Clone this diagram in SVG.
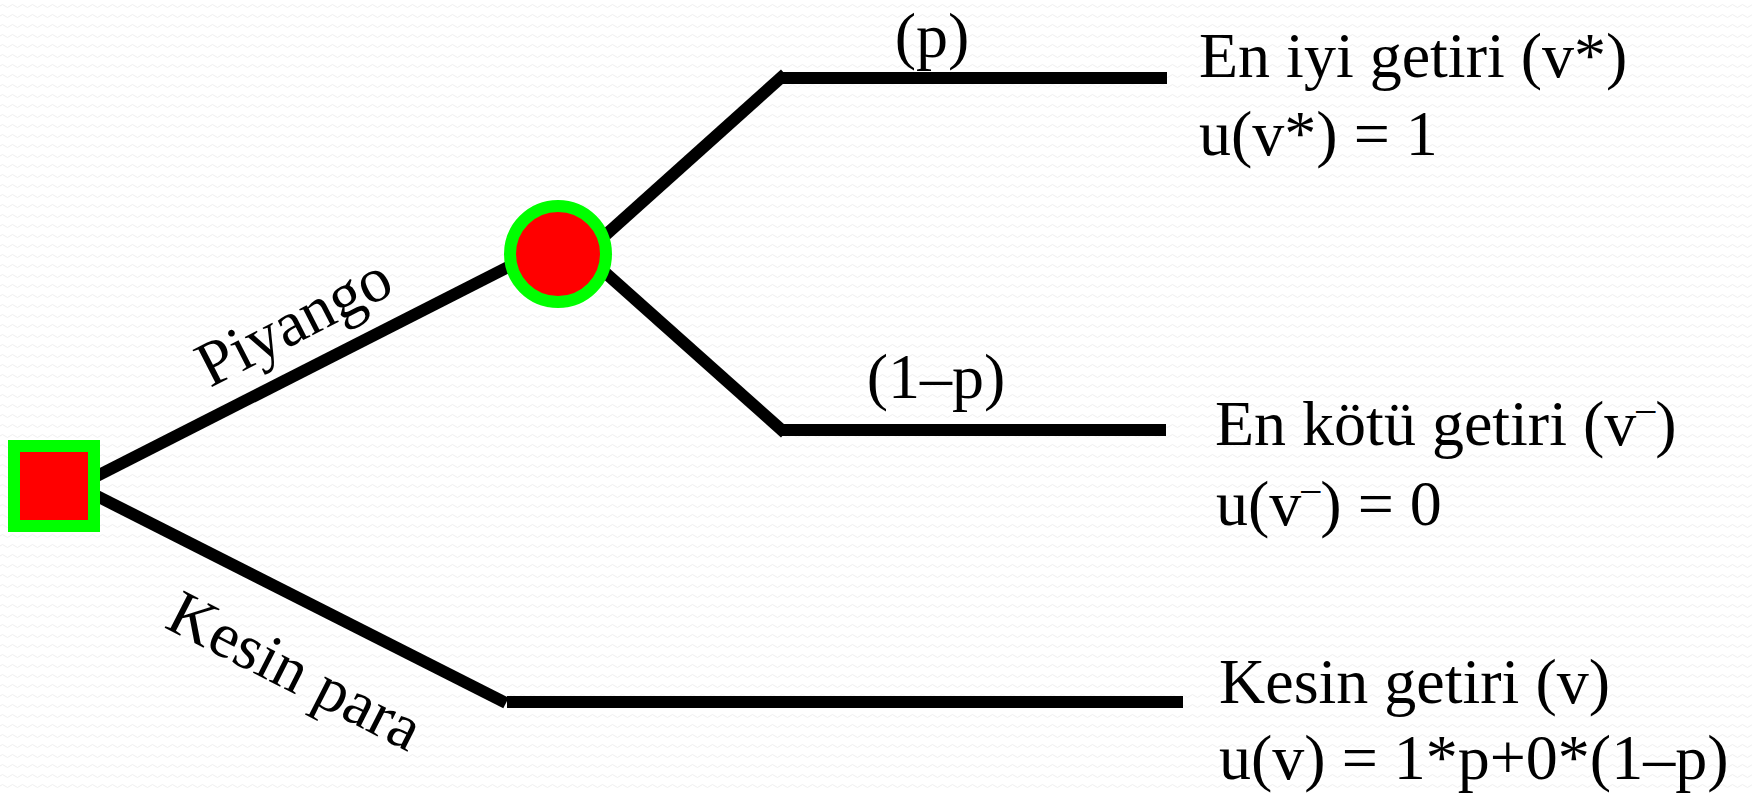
<svg xmlns="http://www.w3.org/2000/svg" width="1752" height="794" viewBox="0 0 1752 794">
<style>
.ln{stroke:#000;stroke-width:12;fill:none;stroke-linecap:butt}
.t{font-family:"Liberation Serif","Times New Roman",serif;font-size:64px;fill:#000}
.node{fill:#FF0000;stroke:#00FF00;stroke-width:12}
</style>
<defs>
<pattern id="bg" width="10" height="10" patternUnits="userSpaceOnUse">
<path d="M0 6 Q2.5 3 5 6 T10 6" stroke="#efefef" stroke-width="1" fill="none"/>
</pattern>
</defs>
<rect width="1752" height="794" fill="#ffffff"/>
<rect width="1752" height="794" fill="url(#bg)"/>
<g id="connectors">
<line class="ln" x1="93" y1="478" x2="510" y2="266"/>
<line class="ln" x1="93" y1="494" x2="506" y2="703"/>
<line class="ln" x1="507" y1="702" x2="1183" y2="702"/>
<line class="ln" x1="600" y1="240" x2="785" y2="74"/>
<line class="ln" x1="782" y1="78" x2="1167" y2="78"/>
<line class="ln" x1="600" y1="268" x2="785" y2="433"/>
<line class="ln" x1="782" y1="430" x2="1166" y2="430"/>
</g>
<g id="decision">
<rect class="node" x="14" y="446" width="80" height="80"/>
</g>
<g id="chance">
<circle class="node" cx="558" cy="254" r="48"/>
</g>
<g id="label-piyango">
<text class="t" transform="translate(210,388) rotate(-27.2)">Piyango</text>
</g>
<g id="label-kesin-para">
<text class="t" transform="translate(163,627) rotate(27)">Kesin para</text>
</g>
<g id="label-p">
<text class="t" x="932" y="57" text-anchor="middle">(p)</text>
</g>
<g id="label-1-p">
<text class="t" x="936" y="398" text-anchor="middle">(1–p)</text>
</g>
<g id="outcome-best">
<text class="t" x="1199" y="77">En iyi getiri (v*)</text>
<text class="t" x="1199" y="155">u(v*) = 1</text>
</g>
<g id="outcome-worst">
<text class="t" x="1215" y="445">En kötü getiri (v<tspan font-size="38" dy="-24">–</tspan><tspan dy="24">)</tspan></text>
<text class="t" x="1216" y="525">u(v<tspan font-size="38" dy="-24">–</tspan><tspan dy="24">) = 0</tspan></text>
</g>
<g id="outcome-sure">
<text class="t" x="1219" y="703">Kesin getiri (v)</text>
<text class="t" x="1219" y="779">u(v) = 1*p+0*(1–p)</text>
</g>
</svg>
